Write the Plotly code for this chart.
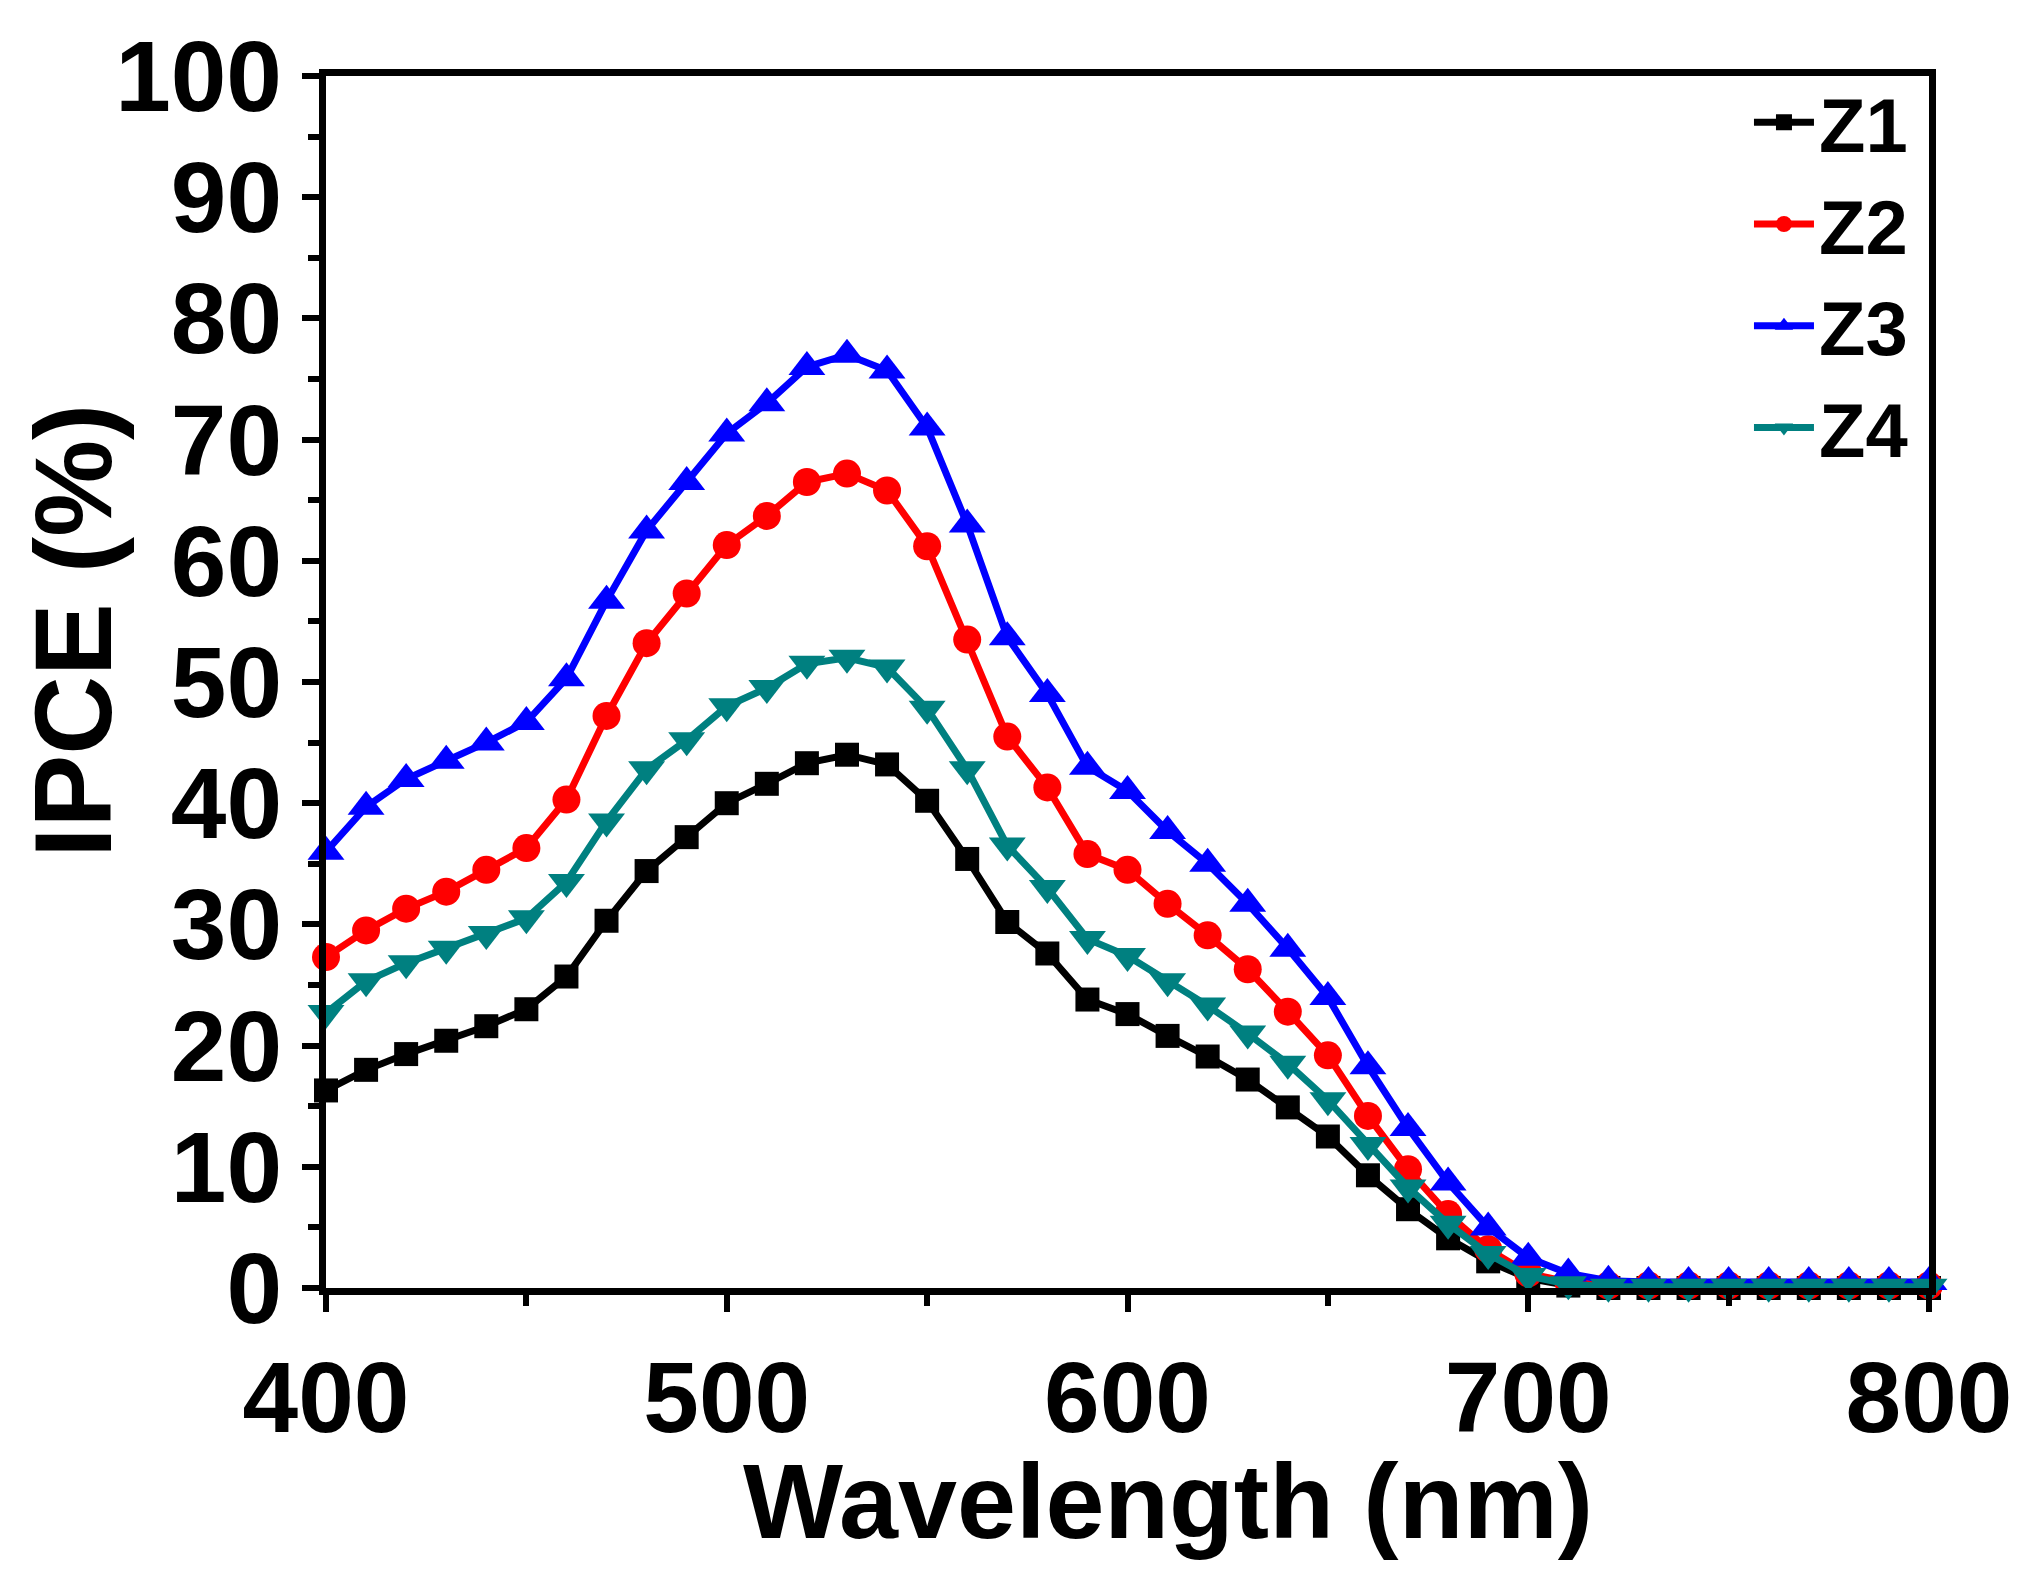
import plotly.graph_objects as go

# wavelength grid (nm)
wavelength = list(range(400, 801, 10))

# IPCE (%)
z1 = [16.3, 18.0, 19.3, 20.4, 21.6, 23.0, 25.7, 30.3, 34.4, 37.2,
      40.0, 41.6, 43.3, 44.0, 43.2, 40.2, 35.4, 30.2, 27.6, 23.8,
      22.6, 20.8, 19.1, 17.2, 14.9, 12.5, 9.3, 6.5, 4.1, 2.2,
      0.8, 0.2, 0.0, 0.0, 0.0, 0.0, 0.0, 0.0, 0.0, 0.0, 0.0]
z2 = [27.3, 29.5, 31.3, 32.7, 34.5, 36.3, 40.3, 47.2, 53.2, 57.3,
      61.3, 63.7, 66.5, 67.2, 65.8, 61.2, 53.5, 45.5, 41.3, 35.8,
      34.5, 31.7, 29.1, 26.3, 22.8, 19.2, 14.2, 9.8, 6.1, 3.2,
      1.2, 0.5, 0.2, 0.2, 0.2, 0.2, 0.2, 0.2, 0.2, 0.2, 0.2]
z3 = [36.0, 39.7, 42.0, 43.5, 45.0, 46.7, 50.3, 56.7, 62.5, 66.5,
      70.5, 73.0, 76.0, 77.0, 75.7, 71.0, 63.0, 53.7, 49.0, 43.0,
      41.0, 37.7, 35.0, 31.7, 28.0, 24.0, 18.3, 13.2, 8.7, 5.0,
      2.5, 1.2, 0.6, 0.5, 0.5, 0.5, 0.5, 0.5, 0.5, 0.5, 0.5]
z4 = [22.7, 25.3, 26.8, 28.0, 29.2, 30.5, 33.5, 38.5, 42.8, 45.2,
      48.0, 49.5, 51.5, 52.0, 51.2, 47.8, 42.8, 36.5, 33.0, 28.8,
      27.4, 25.3, 23.3, 21.0, 18.5, 15.5, 11.8, 8.3, 5.3, 2.8,
      1.0, 0.3, 0.1, 0.1, 0.1, 0.1, 0.1, 0.1, 0.1, 0.1, 0.1]

# name, values, colour, marker symbol, marker size
series = [
    ("Z1", z1, "black", "square", 24),
    ("Z2", z2, "#ff0000", "circle", 28),
    ("Z3", z3, "#0000ff", "triangle-up", 32),
    ("Z4", z4, "#008080", "triangle-down", 32),
]

FONT = "Liberation Sans, Arial, sans-serif"

fig = go.Figure()
for name, vals, color, symbol, msize in series:
    fig.add_trace(go.Scatter(
        x=wavelength, y=vals, name=name, mode="lines+markers",
        line=dict(color=color, width=7),
        marker=dict(symbol=symbol, size=msize, color=color),
        cliponaxis=False,
    ))

axis_common = dict(
    showline=True, linecolor="black", linewidth=7, mirror=True,
    ticks="outside", tickwidth=6, ticklen=17, tickcolor="black",
    showgrid=False, zeroline=False,
    tickfont=dict(family=FONT, size=100, color="black", weight="bold"),
)

fig.update_xaxes(
    range=[400, 800], dtick=100, tick0=400,
    minor=dict(dtick=50, ticks="outside", ticklen=11, tickwidth=6, tickcolor="black"),
    **axis_common,
)
fig.update_yaxes(
    range=[0, 100], dtick=10, tick0=0,
    minor=dict(dtick=5, ticks="outside", ticklen=11, tickwidth=6, tickcolor="black"),
    **axis_common,
)

# axis titles as annotations so they can sit where the original has them
fig.add_annotation(text="Wavelength (nm)", xref="paper", yref="paper",
                   x=0.525, y=-0.176, xanchor="center", yanchor="middle",
                   showarrow=False,
                   font=dict(family=FONT, size=106, color="black", weight="bold"))
fig.add_annotation(text="IPCE (%)", xref="paper", yref="paper",
                   x=-0.158, y=0.542, xanchor="center", yanchor="middle",
                   textangle=-90, showarrow=False,
                   font=dict(family=FONT, size=109, color="black", weight="bold"))

fig.update_layout(
    width=2043, height=1588,
    margin=dict(l=318, r=122, t=61, b=308),
    paper_bgcolor="white", plot_bgcolor="white",
    legend=dict(
        x=0.99, y=1.008, xanchor="right", yanchor="top",
        bgcolor="rgba(0,0,0,0)",
        font=dict(family=FONT, size=76, color="black", weight="bold"),
        itemwidth=60,
    ),
)

fig.write_html("out.html")
